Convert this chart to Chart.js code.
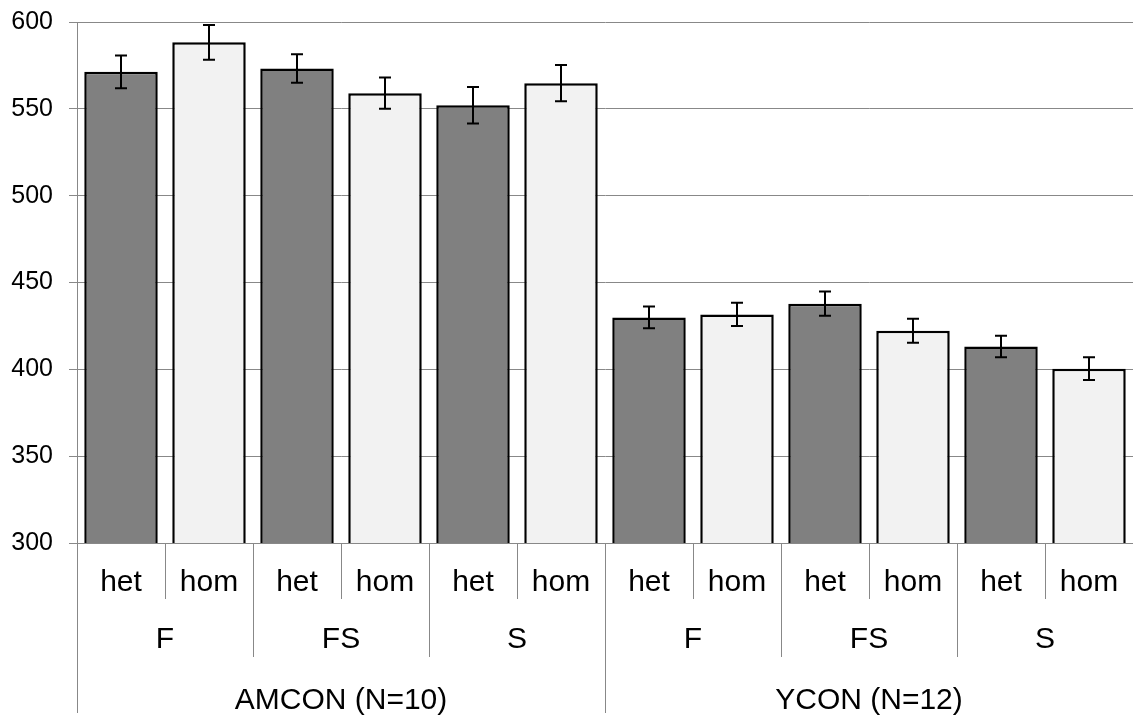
<!DOCTYPE html>
<html>
<head>
<meta charset="utf-8">
<script src="https://cdn.jsdelivr.net/npm/chart.js@4/dist/chart.umd.min.js"></script>
<style>
  body { margin: 0; background: #fff; }
  canvas { display: block; }
</style>
</head>
<body>
<canvas id="chart" width="1133" height="717"></canvas>
<script>
const zygosity = ['het', 'hom', 'het', 'hom', 'het', 'hom', 'het', 'hom', 'het', 'hom', 'het', 'hom'];
const genotypes = ['F', 'FS', 'S', 'F', 'FS', 'S'];
const cohorts = ['AMCON (N=10)', 'YCON (N=12)'];
const means = [571.3, 588.3, 573.2, 559.0, 552.1, 564.8, 429.9, 431.6, 437.8, 422.2, 413.2, 400.4];
const errors = [9.4, 10.0, 8.2, 9.0, 10.5, 10.5, 6.3, 6.7, 7.0, 6.9, 6.2, 6.5];
const yMin = 300, yMax = 600, yStep = 50;

const FONT = '"Liberation Sans", Arial, sans-serif';
const sepColor = '#888888';

const barColors = zygosity.map(z => z === 'het' ? '#808080' : '#f2f2f2');

// error bars on top of the bars
const errorBars = {
  id: 'errorBars',
  afterDatasetsDraw(chart) {
    const { ctx, scales: { x, y } } = chart;
    ctx.save();
    ctx.strokeStyle = '#000';
    ctx.lineWidth = 2;
    means.forEach((m, i) => {
      const px = Math.round(x.getPixelForValue(i));
      const top = y.getPixelForValue(m + errors[i]);
      const bot = y.getPixelForValue(m - errors[i]);
      ctx.beginPath();
      ctx.moveTo(px, top); ctx.lineTo(px, bot);
      ctx.moveTo(px - 6, top); ctx.lineTo(px + 6, top);
      ctx.moveTo(px - 6, bot); ctx.lineTo(px + 6, bot);
      ctx.stroke();
    });
    ctx.restore();
  }
};

// three-level category axis below the plot
const groupAxis = {
  id: 'groupAxis',
  afterDraw(chart) {
    const { ctx, chartArea, scales: { x } } = chart;
    const n = zygosity.length;
    const w = (chartArea.right - chartArea.left) / n;
    const base = chartArea.bottom;
    ctx.save();
    ctx.strokeStyle = sepColor;
    ctx.lineWidth = 1;
    for (let i = 0; i <= n; i++) {
      const bx = Math.round(chartArea.left + i * w) + 0.5;
      let end = 599;
      if (i % 6 === 0) end = 713;
      else if (i % 2 === 0) end = 657;
      ctx.beginPath();
      ctx.moveTo(bx, base);
      ctx.lineTo(bx, end);
      ctx.stroke();
    }
    ctx.fillStyle = '#000';
    ctx.font = '30px ' + FONT;
    ctx.textAlign = 'center';
    ctx.textBaseline = 'alphabetic';
    zygosity.forEach((z, i) => ctx.fillText(z, x.getPixelForValue(i), 591));
    genotypes.forEach((g, i) => {
      const cx = (x.getPixelForValue(i * 2) + x.getPixelForValue(i * 2 + 1)) / 2;
      ctx.fillText(g, cx, 648);
    });
    cohorts.forEach((c, i) => {
      const cx = (x.getPixelForValue(i * 6) + x.getPixelForValue(i * 6 + 5)) / 2;
      ctx.fillText(c, cx, 709);
    });
    ctx.restore();
  }
};

new Chart(document.getElementById('chart'), {
  type: 'bar',
  data: {
    labels: zygosity.map((z, i) => i),
    datasets: [{
      data: means,
      backgroundColor: barColors,
      borderColor: '#000',
      borderWidth: 2.5,
      borderSkipped: 'bottom',
      barPercentage: 0.835,
      categoryPercentage: 1.0
    }]
  },
  options: {
    responsive: false,
    animation: false,
    devicePixelRatio: 1,
    layout: { padding: { top: 22, left: 0, right: 0, bottom: 0 } },
    plugins: { legend: { display: false }, tooltip: { enabled: false } },
    scales: {
      x: {
        type: 'category',
        ticks: { display: false },
        grid: { display: false },
        border: { display: false },
        afterFit: s => { s.height = 174; }
      },
      y: {
        min: yMin,
        max: yMax,
        ticks: {
          stepSize: yStep,
          color: '#000',
          font: { family: FONT, size: 25 },
          padding: 16
        },
        grid: { color: sepColor, lineWidth: 1, tickLength: 8 },
        border: { color: sepColor, width: 1 },
        afterFit: s => { s.width = 77; s.paddingTop = 0; s.paddingBottom = 0; }
      }
    }
  },
  plugins: [errorBars, groupAxis]
});
</script>
</body>
</html>
